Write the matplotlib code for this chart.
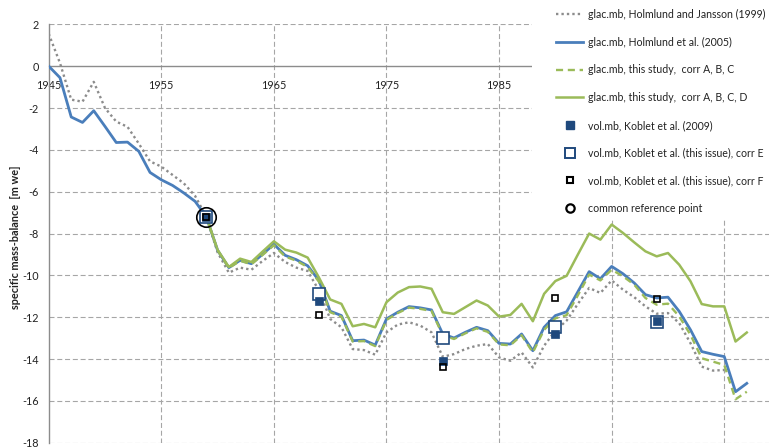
import matplotlib
matplotlib.use("Agg")
import matplotlib.pyplot as plt
from matplotlib.lines import Line2D
from matplotlib.patches import Rectangle
import numpy as np

plt.rcParams['font.family'] = ['Lato', 'DejaVu Sans']

# ---------------- data ----------------
years_hj = list(range(1945, 2006))
mb_hj = [1.55, 0.15, -1.6, -1.7, -0.75, -2.0, -2.65, -2.9, -3.7, -4.55,
         -4.8, -5.2, -5.6, -6.2, -7.2, -8.9, -9.87, -9.63, -9.73, -9.31,
         -8.93, -9.36, -9.63, -9.79, -10.72, -12.08, -12.48, -13.52, -13.57, -13.79,
         -12.72, -12.35, -12.24, -12.4, -12.72, -13.89, -13.76, -13.52, -13.36, -13.28,
         -13.92, -14.08, -13.68, -14.4, -13.36, -12.64, -12.16, -11.36, -10.6, -10.84,
         -10.24, -10.68, -11.04, -11.48, -11.83, -11.8, -12.28, -13.24, -14.36, -14.55,
         -14.52]

years_h05 = list(range(1945, 2008))
mb_h05 = [0.0, -0.55, -2.43, -2.69, -2.13, -2.88, -3.65, -3.63, -4.07, -5.08,
          -5.43, -5.7, -6.06, -6.46, -7.2, -8.8, -9.63, -9.28, -9.44, -8.99,
          -8.51, -9.04, -9.25, -9.54, -10.24, -11.71, -11.92, -13.12, -13.09, -13.33,
          -12.08, -11.76, -11.49, -11.55, -11.65, -12.8, -12.99, -12.72, -12.48, -12.64,
          -13.25, -13.28, -12.8, -13.6, -12.48, -11.92, -11.74, -10.78, -9.82, -10.16,
          -9.57, -9.92, -10.36, -10.92, -11.08, -11.04, -11.72, -12.6, -13.64, -13.77,
          -13.88, -15.56, -15.16]

years_ts = list(range(1959, 2008))
mb_abc = [-7.2, -8.8, -9.65, -9.3, -9.47, -9.02, -8.56, -9.1, -9.3, -9.6,
          -10.3, -11.76, -11.97, -13.16, -13.14, -13.38, -12.13, -11.8, -11.54, -11.6,
          -11.7, -12.86, -13.04, -12.77, -12.53, -12.7, -13.3, -13.34, -12.86, -13.68,
          -12.6, -12.05, -11.9, -10.95, -9.96, -10.24, -9.73, -10.04, -10.44, -11.08,
          -11.4, -11.35, -11.96, -12.84, -13.96, -14.12, -14.28, -15.92, -15.56]
mb_abcd = [-7.2, -8.78, -9.6, -9.2, -9.36, -8.86, -8.37, -8.77, -8.91, -9.15,
           -10.1, -11.15, -11.36, -12.43, -12.32, -12.48, -11.28, -10.82, -10.56, -10.53,
           -10.64, -11.76, -11.84, -11.52, -11.2, -11.44, -11.97, -11.89, -11.36, -12.19,
           -10.88, -10.27, -10.02, -9.0, -8.0, -8.29, -7.57, -7.97, -8.42, -8.85,
           -9.09, -8.93, -9.49, -10.28, -11.37, -11.48, -11.48, -13.16, -12.73]

years_vol = [1959, 1969, 1980, 1990, 1999]
vol_2009 = [-7.2, -11.2, -14.08, -12.8, -12.2]
vol_corrE = [-7.2, -10.88, -13.0, -12.45, -12.23]
vol_corrF = [-7.2, -11.87, -14.37, -11.07, -11.13]

ref_year = [1959]
ref_val = [-7.2]

labels = ["glac.mb, Holmlund and Jansson (1999)",
          "glac.mb, Holmlund et al. (2005)",
          "glac.mb, this study,  corr A, B, C",
          "glac.mb, this study,  corr A, B, C, D",
          "vol.mb, Koblet et al. (2009)",
          "vol.mb, Koblet et al. (this issue), corr E",
          "vol.mb, Koblet et al. (this issue), corr F",
          "common reference point"]

xticks = [1945, 1955, 1965, 1975, 1985]
xgrid = [1955, 1965, 1975, 1985, 1995, 2005]
yticks = list(range(2, -19, -2))
ylabel = "specific mass-balance  [m we]"

# ---------------- style ----------------
c_grey = '#8c8c8c'
c_grid = '#a6a6a6'
c_blue = '#4a7ebb'
c_green = '#9bbb59'
c_dark = '#1f497d'

fig = plt.figure(figsize=(7.69, 4.48), dpi=100)
ax = fig.add_axes([48.7 / 769, 5.2 / 448, 720.6 / 769, 418.5 / 448])
ax.set_xlim(1945, 2009)
ax.set_ylim(-18, 2)

# grid
for x in xgrid:
    ax.axvline(x, color=c_grid, lw=0.8, ls=(0, (4.5, 2.5)), zorder=0)
for y in yticks:
    if y != 0:
        ax.axhline(y, color=c_grid, lw=0.8, ls=(0, (4.5, 2.5)), zorder=0)

for s in ['top', 'right']:
    ax.spines[s].set_visible(False)
ax.spines['bottom'].set_position(('data', 0))
ax.spines['bottom'].set_color(c_grey)
ax.spines['left'].set_color(c_grey)
ax.spines['bottom'].set_linewidth(1.0)
ax.spines['left'].set_linewidth(1.0)

ax.set_xticks(xticks)
ax.set_xticklabels([str(v) for v in xticks])
ax.set_yticks(yticks)
ax.set_yticklabels([str(v) for v in yticks])
ax.tick_params(axis='x', length=0, pad=10, labelsize=7.8, colors='#222222')
ax.tick_params(axis='y', length=0, pad=7, labelsize=7.8, colors='#222222')

ax.set_ylabel(ylabel, fontsize=7.8, fontweight='bold', color='#222222')
ax.yaxis.set_label_coords(-0.0385, 0.49)

# lines
l_hj, = ax.plot(years_hj, mb_hj, color=c_grey, lw=1.7, ls=(0, (1, 1.3)),
                dash_capstyle='butt', zorder=2)
l_h05, = ax.plot(years_h05, mb_h05, color=c_blue, lw=2.0, zorder=3)
l_abc, = ax.plot(years_ts, mb_abc, color=c_green, lw=1.7, ls=(0, (3, 2)), zorder=4)
l_abcd, = ax.plot(years_ts, mb_abcd, color=c_green, lw=1.8, zorder=4)

# markers
ax.plot(years_vol, vol_corrE, ls='none', marker='s', ms=8.5, mfc='white',
        mec=c_dark, mew=1.2, zorder=5)
ax.plot(years_vol, vol_2009, ls='none', marker='s', ms=6.3, mfc=c_dark,
        mec=c_dark, mew=0.5, zorder=6)
ax.plot(years_vol, vol_corrF, ls='none', marker='s', ms=4.6, mfc='none',
        mec='black', mew=1.2, zorder=7)
ax.plot(ref_year, ref_val, ls='none', marker='o', ms=14, mfc='none',
        mec='black', mew=1.2, zorder=8)

# legend cover (white box) + legend
fig.patches.append(Rectangle((532 / 769, 1 - 220 / 448), 1 - 532 / 769, 220 / 448,
                             transform=fig.transFigure, facecolor='white',
                             edgecolor='none', zorder=4))
handles = [
    Line2D([], [], color=c_grey, lw=1.7, ls=(0, (1, 1.3)), dash_capstyle='butt'),
    Line2D([], [], color=c_blue, lw=2.0),
    Line2D([], [], color=c_green, lw=1.7, ls=(0, (3, 2))),
    Line2D([], [], color=c_green, lw=1.8),
    Line2D([], [], ls='none', marker='s', ms=6, mfc=c_dark, mec=c_dark),
    Line2D([], [], ls='none', marker='s', ms=6.5, mfc='white', mec=c_dark, mew=1.4),
    Line2D([], [], ls='none', marker='s', ms=5, mfc='white', mec='black', mew=1.5),
    Line2D([], [], ls='none', marker='o', ms=6, mfc='white', mec='black', mew=1.6),
]
leg = fig.legend(handles, labels, loc='upper left',
                 bbox_to_anchor=(556 / 769, 1 - 9 / 448),
                 frameon=False, fontsize=7.6, handlelength=2.6,
                 handletextpad=0.4, labelspacing=1.58, borderpad=0,
                 borderaxespad=0)
leg.set_zorder(6)
for t in leg.get_texts():
    t.set_color('#222222')

fig.savefig("out.png", dpi=100)
